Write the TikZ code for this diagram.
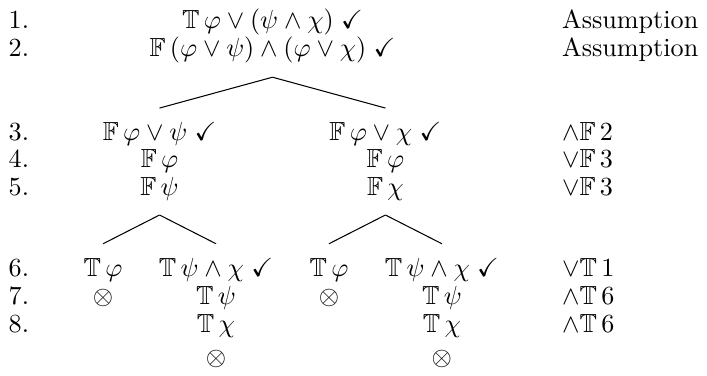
\documentclass[tikz,border=0pt]{standalone}
\usepackage{amsmath}
\usepackage{amssymb}
\usepackage{tikz}
\usetikzlibrary{matrix}

\begin{document}
\begin{tikzpicture}[baseline=(current bounding box.center)]
      \matrix (M)[matrix of math nodes,
      nodes={inner sep=0pt},
      column 9/.style={anchor=base west},
      column sep={21.6pt,between origins},
      row sep={10.6pt,between origins}
      ]{1. &[10.6pt] & & & \mathbb{T}\,\varphi\vee(\psi\wedge\chi)\;\checkmark & & & &[24.2pt] \text{Assumption}\\
        2. & & & & \mathbb{F}\,(\varphi\vee\psi)\wedge(\varphi\vee\chi)\;\checkmark & & & & \text{Assumption}\\[21.6pt]
        3. & & \mathbb{F}\,\varphi\vee\psi\;\checkmark & & & & \mathbb{F}\,\varphi\vee\chi\;\checkmark & & \wedge\mathbb{F}\,2\\
        4. & & \mathbb{F}\,\varphi & & & & \mathbb{F}\,\varphi & & \vee\mathbb{F}\,3\\
        5. & & \mathbb{F}\,\psi & & & & \mathbb{F}\,\chi & & \vee\mathbb{F}\,3\\[20.5pt]
        6. & \mathbb{T}\,\varphi & & \mathbb{T}\,\psi\wedge\chi\;\checkmark & & \mathbb{T}\,\varphi & & \mathbb{T}\,\psi\wedge\chi\;\checkmark & \vee\mathbb{T}\,1\\
        7. & \otimes & & \mathbb{T}\,\psi & & \otimes & & \mathbb{T}\,\psi & \wedge\mathbb{T}\,6\\
        8. & & & \mathbb{T}\,\chi & & & & \mathbb{T}\,\chi & \wedge\mathbb{T}\,6\\[1.9pt]
        & & & \otimes & & & & \otimes & \\
      };
      \draw([yshift=-8.1pt]M-2-5.base)--([yshift=12.3pt]M-3-3.base);
      \draw([yshift=-8.1pt]M-2-5.base)--([yshift=12.3pt]M-3-7.base);
      \draw([yshift=-7.4pt]M-5-3.base)--([yshift=12.7pt]M-6-2.base);
      \draw([yshift=-7.4pt]M-5-3.base)--([yshift=12.7pt]M-6-4.base);
      \draw([yshift=-7.4pt]M-5-7.base)--([yshift=12.7pt]M-6-6.base);
      \draw([yshift=-7.4pt]M-5-7.base)--([yshift=12.7pt]M-6-8.base);
      % \draw[help lines](M-1-1.base)--(M-8-1.base);
      \path[use as bounding box]([xshift=-7.2pt,yshift=9.66pt]M-1-1.base) rectangle ++(267.8pt,-141.7pt);
    \end{tikzpicture}
\end{document}
